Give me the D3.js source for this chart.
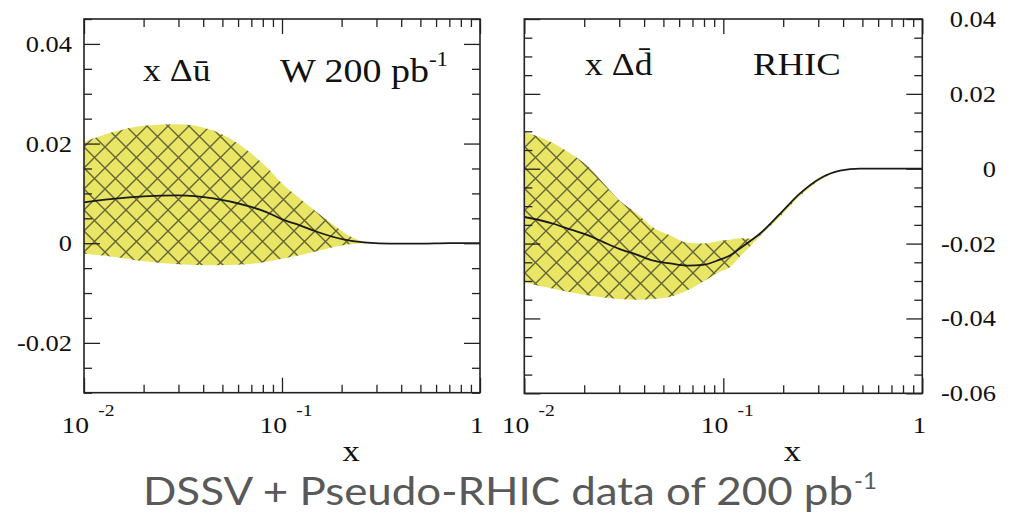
<!DOCTYPE html>
<html>
<head>
<meta charset="utf-8">
<script src="https://cdn.jsdelivr.net/npm/d3@7"></script>
<style>
  body { margin: 0; background: #fff; }
  svg { display: block; }
  .tick line { stroke: #222; stroke-width: 1.3; }
  .serif { font-family: "Liberation Serif", "Times New Roman", serif; fill: #111; }
</style>
</head>
<body>
<script>
const width = 1011, height = 514;

// left panel: x Δū
const uX       = [0.01, 0.014, 0.02, 0.03, 0.045, 0.067, 0.084, 0.1, 0.123, 0.15, 0.18, 0.22, 0.27, 0.35, 0.5, 0.7, 1];
const uCentral = [0.0082, 0.0089, 0.0094, 0.0096, 0.0090, 0.0075, 0.0062, 0.0048, 0.0036, 0.0023, 0.0013, 0.0005, 0.0001, -0.0001, -0.0001, 0, 0];
const uUpper   = [0.0203, 0.0223, 0.0236, 0.0239, 0.0226, 0.0186, 0.0152, 0.0120, 0.0090, 0.0062, 0.0038, 0.0014, 0.0002, -0.0001, -0.0001, 0, 0];
const uLower   = [-0.0021, -0.0027, -0.0036, -0.0042, -0.0044, -0.0042, -0.0037, -0.0031, -0.0024, -0.0016, -0.0008, -0.0002, 0, -0.0001, -0.0001, 0, 0];

// right panel: x Δd̄
const dX       = [0.01, 0.014, 0.017, 0.021, 0.025, 0.03, 0.037, 0.044, 0.054, 0.066, 0.079, 0.096, 0.108, 0.121, 0.141, 0.153, 0.193, 0.243, 0.306, 0.386, 0.486, 0.7, 1];
const dCentral = [-0.0129, -0.0147, -0.0162, -0.0178, -0.0196, -0.0214, -0.0230, -0.0245, -0.0253, -0.0259, -0.0257, -0.0243, -0.0232, -0.0213, -0.0188, -0.0173, -0.0120, -0.0066, -0.0026, -0.0005, 0, 0, 0];
const dUpper   = [0.0099, 0.0068, 0.0041, 0.0005, -0.0039, -0.0084, -0.0120, -0.0156, -0.0178, -0.0198, -0.0200, -0.0193, -0.0190, -0.0186, -0.0187, -0.0173, -0.0120, -0.0066, -0.0026, -0.0005, 0, 0, 0];
const dLower   = [-0.0303, -0.0321, -0.0330, -0.0339, -0.0344, -0.0348, -0.0350, -0.0348, -0.0342, -0.0325, -0.0302, -0.0275, -0.0263, -0.0235, -0.0200, -0.0180, -0.0128, -0.0073, -0.0031, -0.0006, 0, 0, 0];

// ticks
const xMajor = [0.01, 0.1, 1];
const xMajorExp = ["-2", "-1", ""];
const yMajorLeft = [-0.02, 0, 0.02, 0.04];
const yLabelsLeft = ["-0.02", "0", "0.02", "0.04"];
const yMajorRight = [-0.06, -0.04, -0.02, 0, 0.02, 0.04];
const yLabelsRight = ["-0.06", "-0.04", "-0.02", "0", "0.02", "0.04"];

const svg = d3.select("body").append("svg")
  .attr("width", width)
  .attr("height", height);

// cross hatch pattern
const hatch = 21;
const pat = svg.append("defs").append("pattern")
  .attr("id", "hatch")
  .attr("patternUnits", "userSpaceOnUse")
  .attr("width", hatch).attr("height", hatch);
pat.append("rect").attr("width", hatch).attr("height", hatch).attr("fill", "#e9e665");
pat.append("path")
  .attr("d", `M-2,-2L${hatch + 2},${hatch + 2}M${hatch + 2},-2L-2,${hatch + 2}`)
  .attr("stroke", "#44442a").attr("stroke-opacity", 0.8).attr("stroke-width", 1.4);

const panels = [
  { left: 84, right: 480, top: 19, bottom: 392.7, yDomain: [-0.03, 0.045],
    yMajor: yMajorLeft, yLabels: yLabelsLeft, side: "left",
    xs: uX, c: uCentral, up: uUpper, lo: uLower },
  { left: 524.3, right: 922.3, top: 19, bottom: 393.3, yDomain: [-0.06, 0.04],
    yMajor: yMajorRight, yLabels: yLabelsRight, side: "right",
    xs: dX, c: dCentral, up: dUpper, lo: dLower }
];

const xMinor = [];
[0.01, 0.1].forEach(dec => { for (let k = 2; k <= 9; k++) xMinor.push(dec * k); });

// serif text squeezed a bit wider, as in the source image
function stretched(x, y, size, anchor) {
  return svg.append("text")
    .attr("class", "serif")
    .attr("font-size", size)
    .attr("text-anchor", anchor || "start")
    .attr("transform", `translate(${x},${y}) scale(1.15,1)`);
}

panels.forEach(p => {
  const x = d3.scaleLog().domain([0.01, 1]).range([p.left, p.right]);
  const y = d3.scaleLinear().domain(p.yDomain).range([p.bottom, p.top]);
  const yMinor = d3.range(Math.round(p.yDomain[0] / 0.005), Math.round(p.yDomain[1] / 0.005) + 1)
    .map(i => +(i * 0.005).toFixed(3))
    .filter(v => !p.yMajor.some(m => Math.abs(m - v) < 1e-9));

  const rows = p.xs.map((xv, i) => ({ x: xv, c: p.c[i], up: p.up[i], lo: p.lo[i] }));

  // band
  svg.append("path")
    .datum(rows)
    .attr("fill", "url(#hatch)")
    .attr("d", d3.area()
      .x(d => x(d.x)).y0(d => y(d.lo)).y1(d => y(d.up))
      .curve(d3.curveMonotoneX));

  // central line
  svg.append("path")
    .datum(rows)
    .attr("fill", "none")
    .attr("stroke", "#1a1a1a")
    .attr("stroke-width", 1.8)
    .attr("d", d3.line().x(d => x(d.x)).y(d => y(d.c)).curve(d3.curveMonotoneX));

  // ticks on all four sides, pointing inward
  const addAxis = (axis, tx, ty) => {
    const g = svg.append("g").attr("transform", `translate(${tx},${ty})`).call(axis);
    g.select(".domain").remove();
    return g;
  };
  addAxis(d3.axisBottom(x).tickValues(xMajor).tickSize(-15).tickFormat(""), 0, p.bottom);
  addAxis(d3.axisBottom(x).tickValues(xMinor).tickSize(-8).tickFormat(""), 0, p.bottom);
  addAxis(d3.axisTop(x).tickValues(xMajor).tickSize(-15).tickFormat(""), 0, p.top);
  addAxis(d3.axisTop(x).tickValues(xMinor).tickSize(-8).tickFormat(""), 0, p.top);
  addAxis(d3.axisLeft(y).tickValues(p.yMajor).tickSize(-16).tickFormat(""), p.left, 0);
  addAxis(d3.axisLeft(y).tickValues(yMinor).tickSize(-8).tickFormat(""), p.left, 0);
  addAxis(d3.axisRight(y).tickValues(p.yMajor).tickSize(-16).tickFormat(""), p.right, 0);
  addAxis(d3.axisRight(y).tickValues(yMinor).tickSize(-8).tickFormat(""), p.right, 0);

  // frame
  svg.append("rect")
    .attr("x", p.left).attr("y", p.top)
    .attr("width", p.right - p.left).attr("height", p.bottom - p.top)
    .attr("fill", "none").attr("stroke", "#222").attr("stroke-width", 1.6);

  // y tick labels
  p.yMajor.forEach((v, i) => {
    stretched(p.side === "left" ? p.left - 12 : 996, y(v) + 8, 23, "end").text(p.yLabels[i]);
  });

  // x tick labels: 10^-2, 10^-1, 1
  xMajor.forEach((v, i) => {
    if (xMajorExp[i]) {
      const t = stretched(x(v) + 4, 433, 24, "middle");
      t.append("tspan").text("10");
      t.append("tspan").attr("font-size", 17).attr("dx", 8).attr("dy", -17).text(xMajorExp[i]);
    } else {
      stretched(x(v) - 3, 433, 24, "middle").text("1");
    }
  });

  // axis title
  stretched((p.left + p.right) / 2 + 69, 461, 30, "middle").text("x");
});

// panel annotations
stretched(143, 81, 31).text("x \u0394\u016b");
const wLab = stretched(280, 82, 33);
wLab.append("tspan").text("W 200 pb");
wLab.append("tspan").attr("font-size", 20).attr("dy", -16).text("-1");

stretched(585, 75, 31).text("x \u0394d\u0304");
stretched(753, 75, 32).text("RHIC");

// caption
svg.append("text")
  .attr("font-family", "Lato, 'Open Sans', sans-serif")
  .attr("fill", "#595959")
  .attr("font-size", 39)
  .attr("x", 143).attr("y", 505)
  .attr("textLength", 710).attr("lengthAdjust", "spacingAndGlyphs")
  .text("DSSV + Pseudo-RHIC data of 200 pb");
svg.append("text")
  .attr("font-family", "Lato, 'Open Sans', sans-serif")
  .attr("fill", "#595959")
  .attr("font-size", 24)
  .attr("x", 854).attr("y", 489)
  .text("-1");
</script>
</body>
</html>
